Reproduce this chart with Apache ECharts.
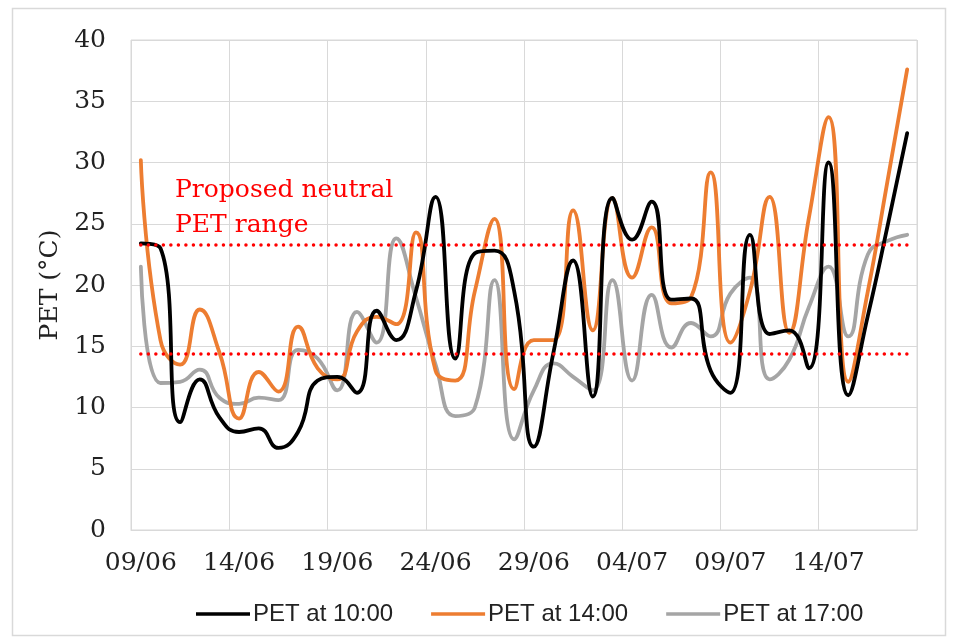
<!DOCTYPE html>
<html>
<head>
<meta charset="utf-8">
<title>PET daily values</title>
<script src="https://cdn.jsdelivr.net/npm/echarts@6/dist/echarts.min.js"></script>
<style>
  html, body { margin: 0; padding: 0; background: #ffffff; }
  #chart { width: 956px; height: 640px; }
</style>
</head>
<body>
<div id="chart"></div>
<script>
// Daily dates, 09/06 to 18/07
const dates = [
  '09/06','10/06','11/06','12/06','13/06','14/06','15/06','16/06','17/06','18/06',
  '19/06','20/06','21/06','22/06','23/06','24/06','25/06','26/06','27/06','28/06',
  '29/06','30/06','01/07','02/07','03/07','04/07','05/07','06/07','07/07','08/07',
  '09/07','10/07','11/07','12/07','13/07','14/07','15/07','16/07','17/07','18/07'
];

// PET (°C) at 10:00
const pet10 = [
  23.4, 23.0, 8.8, 12.3, 9.2, 8.0, 8.3, 6.7, 8.0, 12.2,
  12.5, 11.2, 17.9, 15.5, 19.5, 27.2, 14.0, 22.6, 22.8, 19.5,
  6.8, 14.5, 22.0, 10.9, 27.1, 23.7, 26.8, 18.8, 18.9, 13.0,
  11.2, 24.1, 16.0, 16.3, 13.2, 30.0, 11.0, 17.5, 24.8, 32.4
];

// PET (°C) at 14:00
const pet14 = [
  30.2, 15.5, 13.5, 18.0, 14.5, 9.1, 12.9, 11.3, 16.6, 13.2,
  12.3, 16.2, 17.4, 16.8, 24.3, 13.0, 12.2, 19.5, 25.4, 11.5,
  15.5, 15.5, 26.1, 16.3, 27.1, 20.6, 24.7, 18.5, 19.0, 29.2,
  15.3, 19.5, 27.2, 16.1, 25.5, 33.7, 12.1, 19.5, 28.5, 37.6
];

// PET (°C) at 17:00
const pet17 = [
  21.5, 12.0, 12.1, 13.1, 10.8, 10.3, 10.8, 10.6, 14.7, 14.0,
  11.4, 17.8, 15.3, 23.8, 19.0, 13.5, 9.3, 10.0, 20.4, 7.4,
  11.4, 13.6, 12.5, 11.4, 20.4, 12.2, 19.2, 14.9, 16.9, 15.8,
  19.3, 20.6, 12.3, 13.9, 18.2, 21.5, 15.8, 22.5, 23.6, 24.1
];

// Proposed neutral PET range (°C): lower and upper bound
const neutralRange = [14.4, 23.3];

const seriesNames = ['PET at 10:00', 'PET at 14:00', 'PET at 17:00'];
const seriesColors = ['#000000', '#ED7D31', '#A5A5A5'];

const serif = 'DejaVu Serif';
const sans = 'Liberation Sans';

function rangeLine(value) {
  return [
    { coord: [dates[0], value] },
    { coord: [dates[dates.length - 1], value] }
  ];
}

const chart = echarts.init(document.getElementById('chart'), null, { renderer: 'canvas' });

const option = {
  backgroundColor: '#ffffff',
  animation: false,
  color: seriesColors,
  grid: {
    left: 131, right: 39, top: 40, bottom: 110,
    show: true, borderColor: '#d9d9d9', borderWidth: 1
  },
  legend: {
    data: seriesNames,
    left: 191, top: 597,
    icon: 'rect',
    itemWidth: 54, itemHeight: 3.5,
    itemGap: 38,
    textStyle: { fontFamily: sans, fontSize: 24, color: '#222222', padding: [0, 0, 0, -2] }
  },
  xAxis: {
    type: 'category',
    data: dates,
    boundaryGap: true,
    axisLine: { show: true, lineStyle: { color: '#d9d9d9', width: 1 } },
    axisTick: { show: false, interval: 4 },
    axisLabel: {
      interval: 4, margin: 21,
      fontFamily: serif, fontSize: 25, color: '#222222'
    },
    splitLine: { show: true, interval: 4, lineStyle: { color: '#d9d9d9', width: 1 } }
  },
  yAxis: {
    type: 'value',
    min: 0, max: 40, interval: 5,
    name: 'PET (°C)',
    nameLocation: 'middle',
    nameGap: 58,
    nameTextStyle: { fontFamily: serif, fontSize: 25, color: '#222222' },
    axisLine: { show: false },
    axisTick: { show: false },
    axisLabel: { margin: 25, fontFamily: serif, fontSize: 25, color: '#222222' },
    splitLine: { show: true, lineStyle: { color: '#d9d9d9', width: 1 } }
  },
  graphic: [
    {
      type: 'text',
      left: 175, top: 173,
      style: {
        text: 'Proposed neutral\nPET range',
        fontFamily: serif, fontSize: 25, lineHeight: 35,
        fill: '#ff0000'
      },
      z: 10
    },
    {
      type: 'rect',
      shape: { x: 12.5, y: 8.5, width: 933, height: 627 },
      style: { fill: 'none', stroke: '#d9d9d9', lineWidth: 1.5 },
      silent: true
    }
  ],
  series: [
    {
      name: seriesNames[0], type: 'line', data: pet10,
      smooth: 0.5, showSymbol: false, symbol: 'none',
      lineStyle: { color: seriesColors[0], width: 3.8, cap: 'round', join: 'round' },
      z: 4,
      markLine: {
        silent: true, symbol: 'none', label: { show: false },
        lineStyle: { color: '#ff0000', width: 3.5, type: [0.01, 7.5], cap: 'round' },
        data: [rangeLine(neutralRange[0]), rangeLine(neutralRange[1])]
      }
    },
    {
      name: seriesNames[1], type: 'line', data: pet14,
      smooth: 0.5, showSymbol: false, symbol: 'none',
      lineStyle: { color: seriesColors[1], width: 3.8, cap: 'round', join: 'round' },
      z: 3
    },
    {
      name: seriesNames[2], type: 'line', data: pet17,
      smooth: 0.5, showSymbol: false, symbol: 'none',
      lineStyle: { color: seriesColors[2], width: 3.8, cap: 'round', join: 'round' },
      z: 2
    }
  ]
};

chart.setOption(option);
</script>
</body>
</html>
